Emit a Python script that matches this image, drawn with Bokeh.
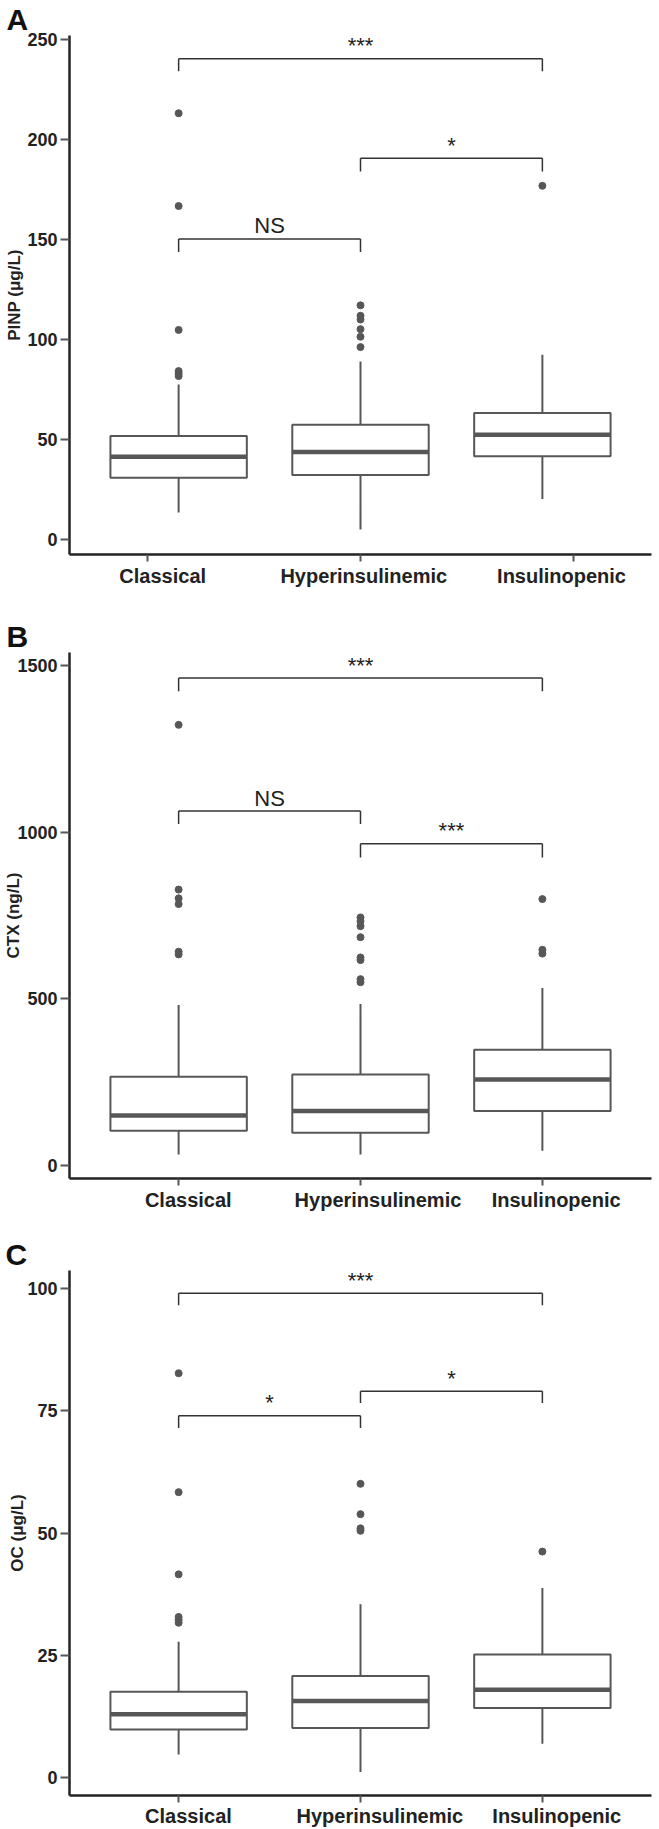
import json
from bokeh.plotting import figure
from bokeh.models import (Range1d, FixedTicker, LinearAxis, Title,
                          CustomJSTickFormatter)
from bokeh.layouts import column
from bokeh.embed import file_html
from bokeh.resources import INLINE
from bokeh.core.properties import value

groups = ["Classical", "Hyperinsulinemic", "Insulinopenic"]
group_pos = [1, 2, 3]

# ---- Panel A: PINP (µg/L) ----
pinp_q1 = [30.8, 32.1, 41.5]
pinp_med = [41.3, 43.6, 52.2]
pinp_q3 = [51.6, 57.3, 63.1]
pinp_lo = [13.4, 4.8, 20.1]
pinp_hi = [77.4, 88.9, 92.3]
pinp_out_classical = [213.1, 166.7, 104.7, 84.1, 82.8, 81.6]
pinp_out_hyper = [117.0, 111.8, 109.9, 105.1, 101.3, 96.1]
pinp_out_insulino = [176.8]
pinp_ticks = [0, 50, 100, 150, 200, 250]
pinp_sig_from = [1, 2, 1]
pinp_sig_to = [3, 3, 2]
pinp_sig_y = [240.4, 190.6, 150.2]
pinp_sig_drop = [234.1, 183.9, 143.7]
pinp_sig_text = ["***", "*", "NS"]

# ---- Panel B: CTX (ng/L) ----
ctx_q1 = [103.1, 97.3, 162.6]
ctx_med = [148.9, 162.6, 257.6]
ctx_q3 = [265.7, 272.5, 347.0]
ctx_lo = [32.0, 32.0, 43.5]
ctx_hi = [481.0, 484.4, 532.5]
ctx_out_classical = [1322.6, 827.9, 801.6, 784.4, 641.3, 633.2]
ctx_out_hyper = [744.3, 732.9, 718.0, 684.8, 624.0, 616.0, 558.8, 549.6]
ctx_out_insulino = [799.3, 647.0, 635.5]
ctx_ticks = [0, 500, 1000, 1500]
ctx_sig_from = [1, 1, 2]
ctx_sig_to = [3, 2, 3]
ctx_sig_y = [1463.4, 1063.8, 965.3]
ctx_sig_drop = [1423.3, 1024.8, 924.1]
ctx_sig_text = ["***", "NS", "***"]

# ---- Panel C: OC (µg/L) ----
oc_q1 = [9.9, 10.2, 14.3]
oc_med = [13.0, 15.7, 18.0]
oc_q3 = [17.6, 20.8, 25.2]
oc_lo = [4.8, 1.2, 7.0]
oc_hi = [27.8, 35.5, 38.8]
oc_out_classical = [82.7, 58.4, 41.6, 32.9, 32.3, 31.7]
oc_out_hyper = [60.1, 53.9, 51.0, 50.5]
oc_out_insulino = [46.25]
oc_ticks = [0, 25, 50, 75, 100]
oc_sig_from = [1, 2, 1]
oc_sig_to = [3, 3, 2]
oc_sig_y = [99.06, 79.0, 74.0]
oc_sig_drop = [96.6, 76.6, 71.5]
oc_sig_text = ["***", "*", "*"]

FONT = "Liberation Sans"
BOX = "#575757"
INK = "#222222"
BRK = "#333333"
XMIN, XMAX = 0.4, 3.6
HALF = 0.375


def build(letter, ylabel, q1, med, q3, lo, hi, outs, yticks,
          sf, st, sy, sd, stext, g):
    fig_w, fig_h = g["w"], g["h"]
    top, fl, fr, ft, fb = g["top"], g["fl"], g["fr"], g["ft"], g["fb"]
    y0, y1 = g["yr"]
    p = figure(width=fig_w, height=fig_h, output_backend="svg",
               toolbar_location=None, title_location=None,
               x_range=Range1d(XMIN, XMAX), y_range=Range1d(y0, y1),
               min_border_left=fl, min_border_right=fig_w - fr,
               min_border_top=ft - top, min_border_bottom=top + fig_h - fb,
               background_fill_color="white", border_fill_color="white")
    p.outline_line_color = None
    p.grid.visible = False

    def dx(px):
        return XMIN + (px - fl) * (XMAX - XMIN) / (fr - fl)

    ppu = (fb - ft) / (y1 - y0)

    # panel letter
    p.add_layout(Title(text=letter, align="left", offset=g["letter_off"],
                       standoff=0, text_font=FONT, text_font_style="bold",
                       text_font_size="30px", text_color="#111111"), "above")

    # y axis
    ya = p.yaxis[0]
    ya.ticker = FixedTicker(ticks=yticks)
    ya.axis_line_color = INK
    ya.axis_line_width = 2.5
    ya.major_tick_line_color = BOX
    ya.major_tick_line_width = 2
    ya.major_tick_out = 9
    ya.major_tick_in = 0
    ya.minor_tick_line_color = None
    ya.major_label_standoff = 3
    ya.major_label_text_font = FONT
    ya.major_label_text_font_style = "bold"
    ya.major_label_text_font_size = "18px"
    ya.major_label_text_color = INK
    ya.axis_label = ylabel
    ya.axis_label_standoff = g["ytitle_standoff"]
    ya.axis_label_text_font = FONT
    ya.axis_label_text_font_style = "bold"
    ya.axis_label_text_font_size = "17px"
    ya.axis_label_text_color = INK

    # x axis: tick marks
    xa = p.xaxis[0]
    xa.ticker = FixedTicker(ticks=g["tick_x"])
    xa.formatter = CustomJSTickFormatter(code='return "";')
    xa.major_label_text_font_size = "1px"
    xa.major_label_standoff = 0
    xa.axis_line_color = INK
    xa.axis_line_width = 2.5
    xa.major_tick_line_color = BOX
    xa.major_tick_line_width = 2
    xa.major_tick_out = 7
    xa.major_tick_in = 0
    xa.minor_tick_line_color = None

    # x axis: group names
    names = json.dumps(groups)
    xl = LinearAxis(ticker=FixedTicker(ticks=[dx(v) for v in g["lab_x"]]),
                    formatter=CustomJSTickFormatter(code="return %s[index];" % names),
                    axis_line_color=None, major_tick_line_color=None,
                    minor_tick_line_color=None, major_tick_out=0, major_tick_in=0,
                    major_label_standoff=g["xlab_standoff"],
                    major_label_text_font=FONT, major_label_text_font_style="bold",
                    major_label_text_font_size="20px", major_label_text_color=INK)
    p.add_layout(xl, "below")

    # boxes
    left = [x - HALF for x in group_pos]
    right = [x + HALF for x in group_pos]
    p.segment(x0=group_pos, y0=q3, x1=group_pos, y1=hi, line_color=BOX, line_width=2)
    p.segment(x0=group_pos, y0=q1, x1=group_pos, y1=lo, line_color=BOX, line_width=2)
    p.quad(left=left, right=right, bottom=q1, top=q3, fill_color="white",
           line_color=BOX, line_width=2)
    p.segment(x0=left, y0=med, x1=right, y1=med, line_color=BOX, line_width=4.5)
    ox, oy = [], []
    for x, vals in zip(group_pos, outs):
        ox += [x] * len(vals)
        oy += vals
    p.scatter(ox, oy, size=7, color=BOX, line_color=BOX)

    # significance brackets
    hx0, hx1, hy = [], [], []
    vx, vy0, vy1 = [], [], []
    tx, ty = [], []
    for a, b, h, d in zip(sf, st, sy, sd):
        hx0.append(a); hx1.append(b); hy.append(h)
        vx += [a, b]; vy0 += [h, h]; vy1 += [d, d]
        tx.append((a + b) / 2); ty.append(h + 13.0 / ppu)
    p.segment(x0=hx0, y0=hy, x1=hx1, y1=hy, line_color=BRK, line_width=1.5)
    p.segment(x0=vx, y0=vy0, x1=vx, y1=vy1, line_color=BRK, line_width=1.5)
    p.text(x=tx, y=ty, text=stext, text_align="center", text_baseline="alphabetic",
           text_font=value(FONT), text_font_size="22px", text_color=INK)
    return p


geoA = dict(top=0, h=608, w=659, fl=67, fr=659, ft=35, fb=554, yr=(-7.65, 252),
            tick_x=[0.831, 2.0, 3.173], lab_x=[161.8, 366.3, 567.5],
            xlab_standoff=3, ytitle_standoff=0, letter_off=-63)
geoB = dict(top=608, h=607, w=659, fl=68, fr=651, ft=652, fb=1178, yr=(-40, 1540),
            tick_x=[1, 2, 3], lab_x=[187, 377, 555.5],
            xlab_standoff=3, ytitle_standoff=-9, letter_off=-63)
geoC = dict(top=1215, h=614, w=659, fl=69, fr=659, ft=1270, fb=1796, yr=(-3.6, 103.7),
            tick_x=[1, 2, 3], lab_x=[189.6, 383.6, 563],
            xlab_standoff=2, ytitle_standoff=-3, letter_off=-64)

pA = build("A", "PINP (μg/L)", pinp_q1, pinp_med, pinp_q3, pinp_lo, pinp_hi,
           [pinp_out_classical, pinp_out_hyper, pinp_out_insulino], pinp_ticks,
           pinp_sig_from, pinp_sig_to, pinp_sig_y, pinp_sig_drop, pinp_sig_text, geoA)
pB = build("B", "CTX (ng/L)", ctx_q1, ctx_med, ctx_q3, ctx_lo, ctx_hi,
           [ctx_out_classical, ctx_out_hyper, ctx_out_insulino], ctx_ticks,
           ctx_sig_from, ctx_sig_to, ctx_sig_y, ctx_sig_drop, ctx_sig_text, geoB)
pC = build("C", "OC (μg/L)", oc_q1, oc_med, oc_q3, oc_lo, oc_hi,
           [oc_out_classical, oc_out_hyper, oc_out_insulino], oc_ticks,
           oc_sig_from, oc_sig_to, oc_sig_y, oc_sig_drop, oc_sig_text, geoC)

layout = column(pA, pB, pC, spacing=0)
open("out.html", "w").write(file_html(layout, INLINE))
